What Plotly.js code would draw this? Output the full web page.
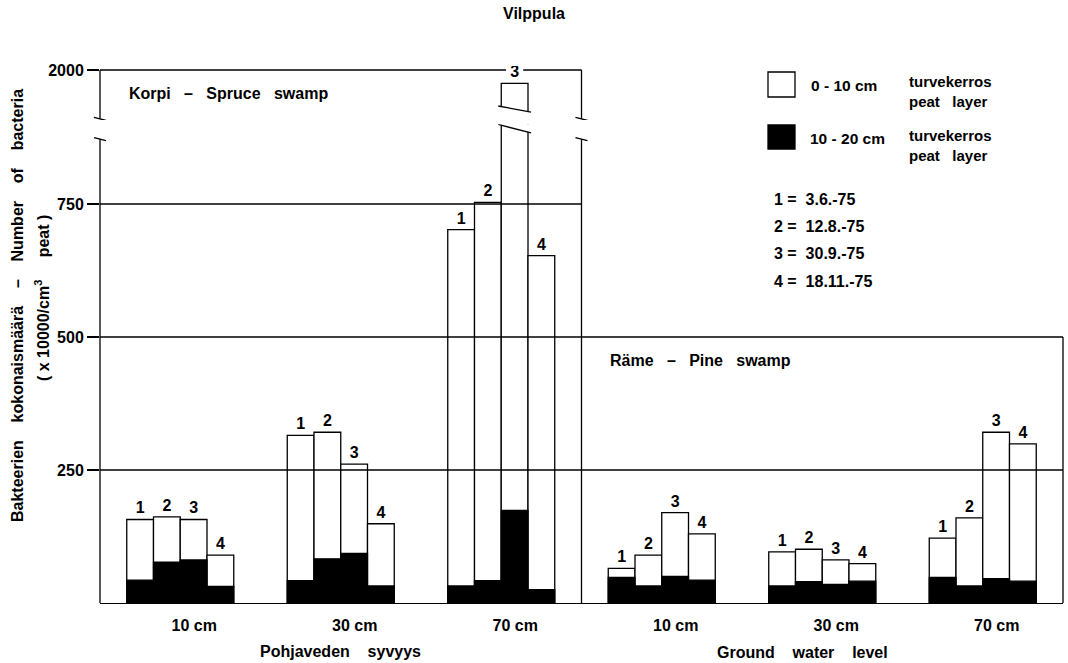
<!DOCTYPE html>
<html><head><meta charset="utf-8">
<script src="https://cdn.plot.ly/plotly-3.0.1.min.js"></script>
<style>html,body{margin:0;padding:0;background:#fff}</style>
</head><body>
<div id="chart" style="width:1068px;height:663px"></div>
<script>
// ---------------- data ----------------
const chartTitle = 'Vilppula';
const depthLabels = ['10 cm', '30 cm', '70 cm', '10 cm', '30 cm', '70 cm'];
const swampNames = ['Korpi – Spruce swamp', 'Räme – Pine swamp'];
const dateIds = ['1', '2', '3', '4'];
const dateLabels = ['3.6.-75', '12.8.-75', '30.9.-75', '18.11.-75'];
// number of bacteria (x 10 000 / cm3 peat); groups: Korpi 10/30/70 cm, Räme 10/30/70 cm
// 0-10 cm peat layer (white bars), one array per sampling date
const peat0to10_d1 = [157, 315, 702, 65, 96, 122];
const peat0to10_d2 = [162, 321, 753, 90, 101, 160];
const peat0to10_d3 = [157, 261, 1975, 170, 81, 321];
const peat0to10_d4 = [90, 149, 653, 130, 74, 299];
// 10-20 cm peat layer (black bars)
const peat10to20_d1 = [43, 42, 32, 48, 32, 48];
const peat10to20_d2 = [77, 83, 42, 32, 40, 32];
const peat10to20_d3 = [81, 93, 174, 50, 35, 46];
const peat10to20_d4 = [31, 32, 25, 43, 41, 41];
const yTickVals = [250, 500, 750];
const yTickValsTop = [2000];
const legendLayers = ['0 - 10 cm', '10 - 20 cm'];
const legendLayerText = ['turvekerros', 'peat layer'];
const xTitles = ['Pohjaveden syvyys', 'Ground water level'];
const yTitle1 = 'Bakteerien kokonaismäärä – Number of bacteria';
const yTitle2 = '( x 10000/cm<sup>3</sup> peat )';

// ---------------- layout constants ----------------
const FONT = '"Liberation Sans", Arial, Helvetica, sans-serif';
const f = (size) => ({family: FONT, size: size, color: '#000', weight: 700});
const LW = 1.3;
const W = 1068, H = 663, ML = 100, MR = 5, MT = 66, MB = 60;
const PW = W - ML - MR, PH = H - MT - MB;
const PXU = 0.532;               // pixels per unit on the value axis
const LOW_MAX = 900;             // top of lower (unbroken) axis segment
const UP_MIN = 1906, UP_MAX = 2007.5;
const BREAK_LOW = 872, BREAK_UP = 1908;
const CAP_BASE = 1920;
const KORPI_TOP = yTickValsTop[0], RAME_TOP = 500;
const nG = depthLabels.length;
const BW = 1 / 6;
const sp = (s, n) => s.replace(/ /g, '\u00a0'.repeat(n));
const xp = px => (px - ML) / PW;
const yp = py => (MT + PH - py) / PH;
const xToPaper = x => (x + 0.5) / nG;

const white = [peat0to10_d1, peat0to10_d2, peat0to10_d3, peat0to10_d4];
const black = [peat10to20_d1, peat10to20_d2, peat10to20_d3, peat10to20_d4];
const gx = depthLabels.map((_, i) => i);

// ---------------- traces ----------------
const traces = [];
white.forEach((vals, j) => {
  traces.push({
    type: 'bar', x: gx, y: vals, xaxis: 'x', yaxis: 'y',
    offset: (j - 2) * BW, width: BW,
    marker: {color: '#ffffff', line: {color: '#000', width: LW}},
    text: vals.map(() => dateIds[j]),
    textposition: vals.map(v => v > LOW_MAX ? 'none' : 'outside'),
    textfont: f(16), constraintext: 'none',
    hoverinfo: 'skip', showlegend: false
  });
});
black.forEach((vals, j) => {
  traces.push({
    type: 'bar', x: gx, y: vals, xaxis: 'x', yaxis: 'y',
    offset: (j - 2) * BW, width: BW,
    marker: {color: '#000', line: {color: '#000', width: LW}},
    textposition: 'none', hoverinfo: 'skip', showlegend: false
  });
});
// upper (broken) segment for values above the axis break
const broken = [];
white.forEach((vals, j) => {
  const idx = gx.filter(i => vals[i] > LOW_MAX);
  if (!idx.length) return;
  idx.forEach(i => broken.push({g: i, j: j}));
  traces.push({
    type: 'bar', x: idx, y: idx.map(i => vals[i] - CAP_BASE), base: CAP_BASE,
    xaxis: 'x', yaxis: 'y2', offset: (j - 2) * BW, width: BW,
    marker: {color: '#ffffff', line: {color: '#000', width: LW}},
    text: idx.map(() => dateIds[j]), textposition: 'outside', textfont: f(16),
    constraintext: 'none', hoverinfo: 'skip', showlegend: false
  });
});

// ---------------- shapes ----------------
const shapes = [];
const line = o => shapes.push(Object.assign({type: 'line', line: {color: '#000', width: LW}}, o));
const korpiR = nG / 2 - 0.5;
// horizontal grid/box lines
yTickVals.forEach(v => line({xref: 'x', yref: 'y', x0: -0.5, x1: v <= RAME_TOP ? nG - 0.5 : korpiR, y0: v, y1: v}));
// left axis (broken)
line({xref: 'paper', yref: 'y', x0: 0, x1: 0, y0: 0, y1: BREAK_LOW});
line({xref: 'paper', yref: 'y2', x0: 0, x1: 0, y0: BREAK_UP, y1: KORPI_TOP});
// Korpi box right edge (broken)
line({xref: 'paper', yref: 'y', x0: xToPaper(korpiR), x1: xToPaper(korpiR), y0: 0, y1: BREAK_LOW});
line({xref: 'paper', yref: 'y2', x0: xToPaper(korpiR), x1: xToPaper(korpiR), y0: BREAK_UP, y1: KORPI_TOP});
// Räme box right edge
line({xref: 'paper', yref: 'y', x0: 1, x1: 1, y0: 0, y1: RAME_TOP});
// top line at 2000 with gaps for labels of broken bars
const gaps = broken.filter(b => b.g <= korpiR).map(b => b.g + (b.j - 1.5) * BW).sort((a, b) => a - b);
let start = -0.5;
gaps.forEach(c => {
  line({xref: 'x', yref: 'y2', x0: start, x1: c - 0.32 * BW, y0: KORPI_TOP, y1: KORPI_TOP});
  start = c + 0.32 * BW;
});
line({xref: 'x', yref: 'y2', x0: start, x1: korpiR, y0: KORPI_TOP, y1: KORPI_TOP});
// break ticks on the axis / box edge
const breakTick = (xpap, yref, v) => line({xref: 'paper', yref: yref,
  x0: xpap - 6 / PW, x1: xpap + 6 / PW, y0: v + 1.5 / PXU, y1: v - 1.5 / PXU});
[0, xToPaper(korpiR)].forEach(xpap => { breakTick(xpap, 'y', BREAK_LOW); breakTick(xpap, 'y2', BREAK_UP); });
// slanted ends of broken bars
const dx = 1.5 / (PW / nG), ex = 3 / (PW / nG);
broken.forEach(b => {
  const xl = b.g + (b.j - 2) * BW, xr = xl + BW;
  // lower piece top
  const tL = LOW_MAX - 1 / PXU, tR = tL - 7 / PXU;
  const sl = (tR - tL) / BW;
  shapes.push({type: 'path', xref: 'x', yref: 'y', fillcolor: '#fff', line: {width: 0},
    path: `M ${xl - dx},${tL} L ${xr + dx},${tR} L ${xr + dx},${LOW_MAX + 5} L ${xl - dx},${LOW_MAX + 5} Z`});
  line({xref: 'x', yref: 'y', x0: xl - ex, y0: tL - sl * ex, x1: xr + ex, y1: tR + sl * ex});
  // upper piece bottom
  const cR = CAP_BASE + 1 / PXU, cL = cR + 5 / PXU;
  const sc = (cR - cL) / BW;
  shapes.push({type: 'path', xref: 'x', yref: 'y2', fillcolor: '#fff', line: {width: 0},
    path: `M ${xl - dx},${cL} L ${xr + dx},${cR} L ${xr + dx},${CAP_BASE - 4} L ${xl - dx},${CAP_BASE - 4} Z`});
  line({xref: 'x', yref: 'y2', x0: xl - ex, y0: cL - sc * ex, x1: xr + ex, y1: cR + sc * ex});
});
// legend swatches
shapes.push({type: 'rect', xref: 'paper', yref: 'paper', x0: xp(768), x1: xp(795), y0: yp(97), y1: yp(72),
  fillcolor: '#fff', line: {color: '#000', width: LW}});
shapes.push({type: 'rect', xref: 'paper', yref: 'paper', x0: xp(768), x1: xp(795), y0: yp(149), y1: yp(125),
  fillcolor: '#000', line: {color: '#000', width: LW}});

// ---------------- annotations ----------------
const annotations = [];
const ann = (text, px, py, size, xanchor, extra) => annotations.push(Object.assign({
  text: text, xref: 'paper', yref: 'paper', x: xp(px), y: yp(py), xanchor: xanchor || 'left',
  yanchor: 'middle', showarrow: false, font: f(size)}, extra || {}));
ann(sp(swampNames[0], 3), 127, 94, 16);
ann(sp(swampNames[1], 3), 608, 361, 16);
ann(legendLayers[0], 809, 86, 15.5);
ann(legendLayers[1], 808, 138, 15.5);
[92, 145].forEach(yc => {
  ann(legendLayerText[0] + '<br>' + sp(legendLayerText[1], 3), 907, yc, 15, 'left', {align: 'left'});
});
dateIds.forEach((d, j) => ann(d + ' =\u00a0\u00a0' + dateLabels[j], 772, 200 + 27 * j, 16));
ann(sp(xTitles[0], 4), 340, 651, 16, 'center');
ann(sp(xTitles[1], 4), 802, 652, 16, 'center');
ann(sp(yTitle1, 4), 17, 306, 16, 'center', {textangle: -90});
ann(yTitle2.replace('cm<sup>3</sup> ', 'cm<sup>3</sup>\u00a0\u00a0\u00a0\u00a0\u00a0'), 42, 298, 16, 'center', {textangle: -90});

// ---------------- layout ----------------
const yCommon = {ticks: 'outside', ticklen: 12, tickwidth: LW, tickcolor: '#000', showline: false,
  showgrid: false, zeroline: false, tickfont: f(16), anchor: 'x', fixedrange: true};
const layout = {
  width: W, height: H, margin: {l: ML, r: MR, t: MT, b: MB, pad: 0},
  paper_bgcolor: '#fff', plot_bgcolor: 'rgba(0,0,0,0)',
  title: {text: chartTitle, font: f(16), x: 0.5, xref: 'container', y: 1 - 13 / H, yref: 'container', yanchor: 'middle'},
  barmode: 'overlay', showlegend: false,
  xaxis: {domain: [0, 1], range: [-0.5, nG - 0.5], tickvals: gx, ticktext: depthLabels, ticks: '',
    showline: true, linecolor: '#000', linewidth: LW, showgrid: false, zeroline: false,
    tickfont: f(16), ticklabelshift: 14, ticklabelstandoff: 7, anchor: 'y', fixedrange: true},
  yaxis: Object.assign({}, yCommon, {domain: [0, LOW_MAX * PXU / PH], range: [0, LOW_MAX],
    tickvals: yTickVals, ticktext: yTickVals.map(String)}),
  yaxis2: Object.assign({}, yCommon, {domain: [1 - (UP_MAX - UP_MIN) * PXU / PH, 1], range: [UP_MIN, UP_MAX],
    tickvals: yTickValsTop, ticktext: yTickValsTop.map(String)}),
  shapes: shapes, annotations: annotations
};
Plotly.newPlot('chart', traces, layout, {displayModeBar: false, staticPlot: true});
</script>
</body></html>
